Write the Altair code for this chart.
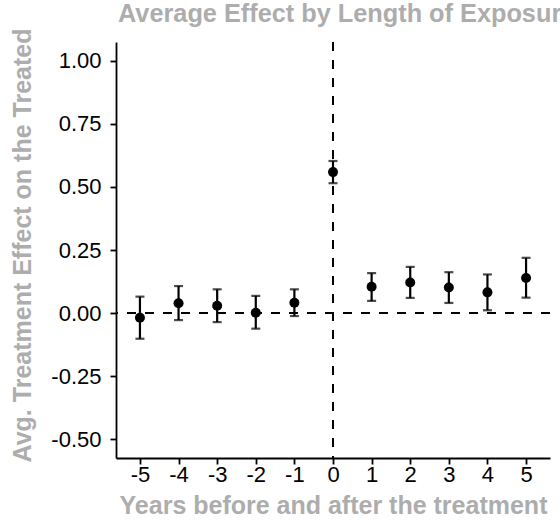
import altair as alt
import pandas as pd

years = [-5, -4, -3, -2, -1, 0, 1, 2, 3, 4, 5]
estimate = [-0.019, 0.039, 0.029, 0.001, 0.041, 0.559, 0.104, 0.121, 0.101, 0.082, 0.139]
ci_low = [-0.102, -0.028, -0.036, -0.062, -0.012, 0.515, 0.048, 0.060, 0.040, 0.011, 0.061]
ci_high = [0.065, 0.107, 0.094, 0.068, 0.094, 0.603, 0.158, 0.183, 0.162, 0.153, 0.219]

x_ticks = years
y_ticks = [-0.5, -0.25, 0.0, 0.25, 0.5, 0.75, 1.0]

chart_title = ["Average Effect by Length of Exposure"]
x_title = "Years before and after the treatment"
y_title = "Avg. Treatment Effect on the Treated"

df = pd.DataFrame({"year": years, "est": estimate, "lo": ci_low, "hi": ci_high})
title_df = pd.DataFrame({"t": chart_title})

FONT = "Liberation Sans"
GREY = "#ADADAD"

xscale = alt.Scale(domain=[-5.62, 5.62], nice=False, zero=False)
yscale = alt.Scale(domain=[-0.575, 1.075], nice=False, zero=False)

xaxis = alt.Axis(
    values=x_ticks,
    title=x_title,
    labelPadding=0,
    titlePadding=8,
    labelExpr="datum.value < 0 ? '-' + format(-datum.value, 'd') : format(datum.value, 'd')",
)
yaxis = alt.Axis(
    values=y_ticks,
    title=y_title,
    labelPadding=9,
    titlePadding=15,
    titleY=203,
    labelExpr="datum.value < 0 ? '-' + format(-datum.value, '.2f') : format(datum.value, '.2f')",
)

base = alt.Chart(df)

hline = base.mark_rule(color="black", strokeWidth=1.8, strokeDash=[9, 9]).encode(
    y=alt.datum(0, scale=yscale, axis=yaxis)
)
vline = base.mark_rule(color="black", strokeWidth=1.8, strokeDash=[9, 9]).encode(
    x=alt.datum(0, scale=xscale, axis=xaxis)
)

bars = base.mark_rule(color="black", strokeWidth=2.2).encode(
    x=alt.X("year:Q", scale=xscale, axis=xaxis),
    y=alt.Y("lo:Q", scale=yscale, axis=yaxis),
    y2="hi:Q",
)
caps_hi = base.mark_tick(color="black", orient="horizontal", size=9, thickness=2.2).encode(
    x=alt.X("year:Q", scale=xscale, axis=xaxis),
    y=alt.Y("hi:Q", scale=yscale, axis=yaxis),
)
caps_lo = base.mark_tick(color="black", orient="horizontal", size=9, thickness=2.2).encode(
    x=alt.X("year:Q", scale=xscale, axis=xaxis),
    y=alt.Y("lo:Q", scale=yscale, axis=yaxis),
)
points = base.mark_circle(color="black", opacity=1, size=100).encode(
    x=alt.X("year:Q", scale=xscale, axis=xaxis),
    y=alt.Y("est:Q", scale=yscale, axis=yaxis),
)

title_text = alt.Chart(title_df).mark_text(
    font=FONT,
    fontSize=25.3,
    fontWeight="bold",
    color=GREY,
    align="left",
    baseline="alphabetic",
).encode(x=alt.value(2), y=alt.value(-20), text="t:N")

chart = (
    alt.layer(hline, vline, bars, caps_hi, caps_lo, points, title_text)
    .properties(
        width=434,
        height=416,
        autosize=alt.AutoSizeParams(type="none"),
        padding={"left": 116, "top": 42, "right": 10, "bottom": 64},
    )
    .configure_view(stroke=None)
    .configure_axis(
        grid=False,
        domainColor="black",
        domainWidth=1.8,
        tickColor="black",
        tickWidth=1.8,
        tickSize=6,
        labelColor="black",
        labelFont=FONT,
        labelFontSize=22,
        titleFont=FONT,
        titleFontSize=25,
        titleFontWeight="bold",
        titleColor=GREY,
    )
)

chart.save("out.html", embed_options={"renderer": "svg", "actions": False})
